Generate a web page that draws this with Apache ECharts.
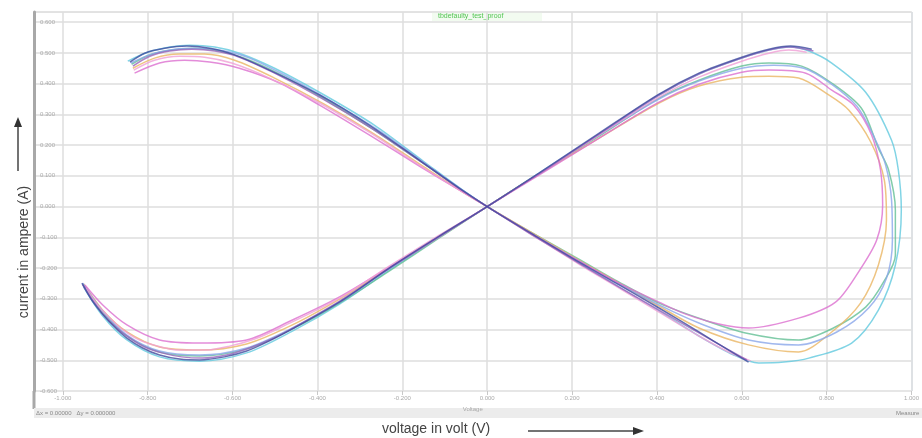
<!DOCTYPE html>
<html>
<head>
<meta charset="utf-8">
<script src="https://cdn.jsdelivr.net/npm/echarts@6/dist/echarts.min.js"></script>
<style>
html, body { margin: 0; padding: 0; background: #fff; }
#main { width: 922px; height: 438px; }
</style>
</head>
<body>
<div id="main"></div>
<script>
// voltage (V) / current sweeps, one array per trace
// dark traces come in two pieces (they stop at the right side)
var navyA = [[-0.842,0.470],[-0.807,0.499],[-0.760,0.515],[-0.708,0.522],[-0.654,0.515],[-0.600,0.496],[-0.513,0.444],[-0.395,0.363],[-0.278,0.265],[-0.160,0.151],[-0.066,0.060],[0,0],[0.099,-0.083],[0.216,-0.180],[0.311,-0.255],[0.405,-0.330],[0.499,-0.408],[0.569,-0.467],[0.616,-0.506]];
var navyB = [[-0.955,-0.249],[-0.932,-0.304],[-0.906,-0.350],[-0.878,-0.392],[-0.849,-0.428],[-0.812,-0.460],[-0.772,-0.483],[-0.725,-0.496],[-0.678,-0.499],[-0.619,-0.489],[-0.567,-0.470],[-0.513,-0.437],[-0.459,-0.398],[-0.348,-0.311],[-0.231,-0.200],[-0.113,-0.096],[0,0],[0.122,0.109],[0.264,0.239],[0.405,0.366],[0.499,0.434],[0.600,0.486],[0.664,0.512],[0.715,0.522],[0.765,0.512]];
var purpleA = [[-0.835,0.457],[-0.795,0.489],[-0.748,0.506],[-0.696,0.512],[-0.642,0.506],[-0.584,0.486],[-0.501,0.434],[-0.391,0.353],[-0.273,0.255],[-0.155,0.145],[-0.064,0.057],[0,0],[0.099,-0.086],[0.216,-0.184],[0.311,-0.262],[0.405,-0.337],[0.499,-0.411],[0.565,-0.463],[0.612,-0.499]];
var purpleB = [[-0.953,-0.255],[-0.929,-0.307],[-0.904,-0.353],[-0.873,-0.395],[-0.842,-0.428],[-0.807,-0.457],[-0.767,-0.476],[-0.720,-0.489],[-0.671,-0.493],[-0.614,-0.483],[-0.560,-0.460],[-0.508,-0.431],[-0.454,-0.392],[-0.344,-0.304],[-0.226,-0.197],[-0.111,-0.096],[0,0],[0.122,0.106],[0.264,0.236],[0.405,0.363],[0.499,0.431],[0.600,0.483],[0.664,0.509],[0.711,0.519],[0.769,0.506]];
var pinkA = [[-0.833,0.444],[-0.784,0.476],[-0.725,0.489],[-0.666,0.486],[-0.602,0.467],[-0.513,0.418],[-0.395,0.337],[-0.278,0.242],[-0.160,0.135],[-0.066,0.054],[0,0],[0.099,-0.086],[0.216,-0.187],[0.311,-0.265],[0.405,-0.343],[0.499,-0.421],[0.569,-0.473],[0.621,-0.502]];
var pinkB = [[-0.946,-0.265],[-0.922,-0.314],[-0.894,-0.356],[-0.861,-0.398],[-0.824,-0.431],[-0.776,-0.454],[-0.725,-0.467],[-0.666,-0.467],[-0.607,-0.454],[-0.548,-0.431],[-0.489,-0.395],[-0.348,-0.298],[-0.231,-0.194],[-0.113,-0.093],[0,0],[0.122,0.106],[0.264,0.233],[0.405,0.356],[0.499,0.421],[0.600,0.473],[0.664,0.499],[0.711,0.509],[0.753,0.502]];
// full loops
var cyan = [[-0.847,0.473],[-0.800,0.502],[-0.748,0.519],[-0.701,0.525],[-0.642,0.519],[-0.584,0.499],[-0.501,0.450],[-0.384,0.363],[-0.266,0.265],[-0.148,0.145],[-0.061,0.057],[0,0],[0.099,-0.083],[0.216,-0.184],[0.311,-0.262],[0.405,-0.340],[0.499,-0.421],[0.581,-0.483],[0.640,-0.509],[0.699,-0.506],[0.758,-0.493],[0.859,-0.444],[0.922,-0.337],[0.962,-0.190],[0.976,-0.011],[0.969,0.119],[0.953,0.216],[0.892,0.372],[0.812,0.467],[0.758,0.506],[0.715,0.519],[0.664,0.509],[0.600,0.483],[0.499,0.431],[0.405,0.363],[0.264,0.236],[0.122,0.109],[0,0],[-0.113,-0.099],[-0.231,-0.207],[-0.348,-0.317],[-0.459,-0.405],[-0.567,-0.476],[-0.678,-0.503],[-0.772,-0.489],[-0.849,-0.434],[-0.906,-0.356],[-0.951,-0.262]];
var teal = [[-0.838,0.463],[-0.795,0.493],[-0.744,0.509],[-0.689,0.515],[-0.631,0.506],[-0.572,0.483],[-0.489,0.431],[-0.384,0.350],[-0.266,0.249],[-0.148,0.138],[-0.061,0.054],[0,0],[0.099,-0.080],[0.216,-0.171],[0.311,-0.246],[0.405,-0.314],[0.499,-0.363],[0.609,-0.411],[0.734,-0.434],[0.816,-0.395],[0.892,-0.327],[0.934,-0.246],[0.962,-0.158],[0.962,-0.011],[0.946,0.119],[0.922,0.190],[0.882,0.320],[0.812,0.402],[0.741,0.457],[0.664,0.467],[0.600,0.457],[0.499,0.411],[0.405,0.353],[0.264,0.229],[0.122,0.106],[0,0],[-0.113,-0.102],[-0.231,-0.210],[-0.348,-0.314],[-0.459,-0.398],[-0.567,-0.463],[-0.678,-0.486],[-0.772,-0.473],[-0.849,-0.421],[-0.906,-0.343],[-0.953,-0.252]];
var magenta = [[-0.831,0.434],[-0.772,0.467],[-0.713,0.476],[-0.654,0.470],[-0.584,0.450],[-0.489,0.402],[-0.395,0.330],[-0.278,0.233],[-0.160,0.132],[-0.066,0.054],[0,0],[0.099,-0.083],[0.216,-0.177],[0.311,-0.249],[0.405,-0.311],[0.468,-0.350],[0.546,-0.382],[0.616,-0.395],[0.734,-0.363],[0.821,-0.311],[0.875,-0.213],[0.918,-0.109],[0.932,0.005],[0.927,0.119],[0.906,0.233],[0.864,0.330],[0.812,0.379],[0.751,0.434],[0.664,0.444],[0.600,0.437],[0.499,0.398],[0.405,0.340],[0.264,0.223],[0.122,0.102],[0,0],[-0.113,-0.096],[-0.231,-0.197],[-0.348,-0.294],[-0.459,-0.369],[-0.567,-0.434],[-0.678,-0.444],[-0.772,-0.434],[-0.849,-0.385],[-0.906,-0.320],[-0.948,-0.255]];
var orange = [[-0.835,0.450],[-0.784,0.483],[-0.725,0.496],[-0.666,0.496],[-0.595,0.476],[-0.501,0.418],[-0.384,0.333],[-0.266,0.236],[-0.148,0.128],[-0.061,0.050],[0,0],[0.099,-0.080],[0.216,-0.174],[0.311,-0.249],[0.405,-0.324],[0.499,-0.395],[0.616,-0.450],[0.734,-0.473],[0.812,-0.408],[0.880,-0.314],[0.922,-0.190],[0.941,-0.044],[0.936,0.086],[0.904,0.210],[0.852,0.314],[0.805,0.363],[0.734,0.418],[0.664,0.424],[0.600,0.421],[0.499,0.392],[0.405,0.337],[0.264,0.223],[0.122,0.106],[0,0],[-0.113,-0.099],[-0.231,-0.200],[-0.348,-0.301],[-0.459,-0.385],[-0.567,-0.447],[-0.678,-0.467],[-0.772,-0.457],[-0.849,-0.408],[-0.906,-0.337],[-0.951,-0.252]];
var periwinkle = [[-0.840,0.467],[-0.791,0.496],[-0.736,0.512],[-0.682,0.515],[-0.619,0.506],[-0.560,0.483],[-0.478,0.428],[-0.372,0.346],[-0.254,0.246],[-0.141,0.135],[-0.059,0.054],[0,0],[0.099,-0.083],[0.216,-0.177],[0.311,-0.252],[0.405,-0.320],[0.499,-0.379],[0.616,-0.434],[0.734,-0.450],[0.824,-0.408],[0.899,-0.330],[0.941,-0.233],[0.955,-0.109],[0.953,0.021],[0.939,0.135],[0.913,0.223],[0.871,0.327],[0.805,0.405],[0.746,0.450],[0.675,0.460],[0.600,0.450],[0.499,0.408],[0.405,0.350],[0.264,0.233],[0.122,0.106],[0,0],[-0.113,-0.099],[-0.231,-0.203],[-0.348,-0.311],[-0.459,-0.395],[-0.567,-0.460],[-0.678,-0.483],[-0.772,-0.470],[-0.849,-0.418],[-0.906,-0.340],[-0.953,-0.249]];

var traces = [
	{ name: 'run 1', color: '#62c9de', parts: [cyan] },
	{ name: 'run 2', color: '#63bf95', parts: [teal] },
	{ name: 'run 3', color: '#eab563', parts: [orange] },
	{ name: 'run 4', color: '#8aa6ea', parts: [periwinkle] },
	{ name: 'run 5', color: '#dc6fd0', parts: [magenta] },
	{ name: 'run 6', color: '#f09fd6', parts: [pinkA, pinkB] },
	{ name: 'run 7', color: '#9a63bb', parts: [purpleA, purpleB] },
	{ name: 'run 8', color: '#3f4a9e', parts: [navyA, navyB] }
];

var seriesDatas = [];
traces.forEach(function (t) {
	t.parts.forEach(function (p) {
		seriesDatas.push({
			name: t.name,
			type: 'line',
			data: p,
			showSymbol: false,
			smooth: 0.3,
			lineStyle: { color: t.color, width: 1.5, opacity: 0.8 },
			itemStyle: { color: t.color }
		});
	});
});

var chart = echarts.init(document.getElementById('main'));
var option = {
	animation: false,
	backgroundColor: '#fff',
	grid: { left: 34, right: 10, top: 12, bottom: 47 },
	xAxis: {
		type: 'value',
		min: -1.068,
		max: 1.0,
		splitNumber: 10,
		axisLine: { show: false, onZero: false },
		axisTick: { show: true, length: 4, lineStyle: { color: '#c8c8c8' } },
		axisLabel: {
			showMinLabel: false,
			fontSize: 6,
			color: '#aaa',
			margin: 4,
			formatter: function (v) { return v.toFixed(3); }
		},
		splitLine: { show: true, lineStyle: { color: '#dedede', width: 1.5 } },
		name: 'Voltage',
		nameLocation: 'middle',
		nameGap: 13,
		nameTextStyle: { fontSize: 6, color: '#aaa' }
	},
	yAxis: {
		type: 'value',
		min: -0.6,
		max: 0.633,
		splitNumber: 12,
		axisLine: { show: true, onZero: false, lineStyle: { color: '#a8a8a8', width: 3 } },
		axisTick: { show: false },
		axisLabel: {
			inside: true,
			showMaxLabel: false,
			fontSize: 6,
			color: '#aaa',
			margin: 6,
			formatter: function (v) { return v.toFixed(3); }
		},
		splitLine: { show: true, lineStyle: { color: '#dedede', width: 1.5 } }
	},
	graphic: [
		// frame top and right edge
		{ type: 'line', shape: { x1: 34, y1: 12, x2: 912, y2: 12 }, style: { stroke: '#e2e2e2', lineWidth: 1 } },
		{ type: 'line', shape: { x1: 912, y1: 12, x2: 912, y2: 391 }, style: { stroke: '#d3e4f3', lineWidth: 1.5 } },
		{ type: 'line', shape: { x1: 34, y1: 391, x2: 34, y2: 409 }, style: { stroke: '#a8a8a8', lineWidth: 3 } },
		// status strip
		{ type: 'rect', shape: { x: 34, y: 408, width: 888, height: 10 }, style: { fill: '#ececec' } },
		{ type: 'text', left: 36, top: 410, style: { text: 'Δx = 0.00000   Δy = 0.000000', fontSize: 6, fill: '#888' } },
		{ type: 'text', left: 896, top: 410, style: { text: 'Measure', fontSize: 6, fill: '#888' } },
		// plot title
		{ type: 'rect', shape: { x: 432, y: 12, width: 110, height: 9 }, style: { fill: '#f2fbf0' } },
		{ type: 'text', left: 438, top: 13, style: { text: 'tbdefaulty_test_proof', fontSize: 7, fill: '#52c452' } },
		// axis captions
		{ type: 'text', x: 24, y: 252, rotation: Math.PI / 2, style: { text: 'current in ampere (A)', fontSize: 14, fontFamily: 'Liberation Sans, Arial, sans-serif', fill: '#444', align: 'center', verticalAlign: 'middle' } },
		{ type: 'line', shape: { x1: 18, y1: 171, x2: 18, y2: 126 }, style: { stroke: '#444', lineWidth: 1.5 } },
		{ type: 'polygon', shape: { points: [[18, 117], [14, 127], [22, 127]] }, style: { fill: '#333' } },
		{ type: 'text', left: 382, top: 422, style: { text: 'voltage in volt (V)', fontSize: 14, fontFamily: 'Liberation Sans, Arial, sans-serif', fill: '#444' } },
		{ type: 'line', shape: { x1: 528, y1: 431, x2: 634, y2: 431 }, style: { stroke: '#444', lineWidth: 1.5 } },
		{ type: 'polygon', shape: { points: [[644, 431], [633, 427], [633, 435]] }, style: { fill: '#333' } }
	],
	series: seriesDatas
};
chart.setOption(option);
</script>
</body>
</html>
